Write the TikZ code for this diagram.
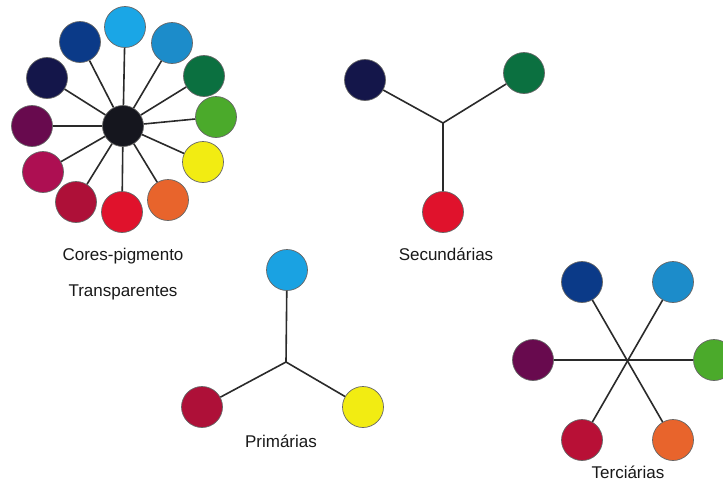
\documentclass[tikz,border=0pt]{standalone}
\usepackage{fontspec}
\setmainfont{Liberation Sans}
\definecolor{cSky}{HTML}{1AA6E6}
\definecolor{cCyan}{HTML}{1C8CCA}
\definecolor{cDGreen}{HTML}{0B7040}
\definecolor{cLGreen}{HTML}{4BAA2B}
\definecolor{cYellow}{HTML}{F2EC12}
\definecolor{cOrange}{HTML}{E8642C}
\definecolor{cRed}{HTML}{E0122C}
\definecolor{cCrimson}{HTML}{AE1038}
\definecolor{cMagenta}{HTML}{AD0F52}
\definecolor{cPurple}{HTML}{680A4E}
\definecolor{cNavy}{HTML}{14164A}
\definecolor{cDBlue}{HTML}{0B3A88}
\definecolor{cCenter}{HTML}{15161E}
\definecolor{cLine}{HTML}{2A2A2A}
\begin{document}
\begin{tikzpicture}[x=1pt,y=-1pt,
  dot/.style={circle,draw=black!60,line width=0.7pt,minimum size=41pt,inner sep=0pt,fill=#1},
  spoke/.style={draw=cLine,line width=1.6pt},
  lbl/.style={font=\fontsize{17}{19}\selectfont,text=black!90,inner sep=0pt}]
\useasboundingbox[fill=white] (0,0) rectangle (723,482);
% Wheel
\node[dot=cCenter] (c) at (123,126) {};
\node[dot=cSky] (w1) at (125,27) {};
\node[dot=cCyan] (w2) at (172,43) {};
\node[dot=cDGreen] (w3) at (204,76) {};
\node[dot=cLGreen] (w4) at (216,117) {};
\node[dot=cYellow] (w5) at (203,162) {};
\node[dot=cOrange] (w6) at (168,200) {};
\node[dot=cRed] (w7) at (122,212) {};
\node[dot=cCrimson] (w8) at (76,202) {};
\node[dot=cMagenta] (w9) at (43,172) {};
\node[dot=cPurple] (w10) at (32,126) {};
\node[dot=cNavy] (w11) at (47,78) {};
\node[dot=cDBlue] (w12) at (80,42) {};
\foreach \i in {1,...,12} {\draw[spoke] (c) -- (w\i);}
\node[lbl] (lcp) at (123,256) {Cores-pigmento};
\node[lbl] (ltr) at (123,292) {Transparentes};
% Secundarias
\coordinate (sj) at (443,123);
\node[dot=cNavy] (s1) at (365,80) {};
\node[dot=cDGreen] (s2) at (524,73) {};
\node[dot=cRed] (s3) at (443,212) {};
\draw[spoke] (s1) -- (sj) -- (s2);
\draw[spoke] (sj) -- (s3);
\node[lbl] (lsec) at (446,254) {Secundárias};
% Primarias
\coordinate (pj) at (286,362);
\node[dot=cSky!85!cCyan] (p1) at (287,270) {};
\node[dot=cCrimson] (p2) at (202,407) {};
\node[dot=cYellow] (p3) at (363,407) {};
\draw[spoke] (pj) -- (p1);
\draw[spoke] (pj) -- (p2);
\draw[spoke] (pj) -- (p3);
\node[lbl] (lpri) at (281,441) {Primárias};
% Terciarias
\node[dot=cDBlue] (t1) at (582,282) {};
\node[dot=cCyan] (t2) at (673,282) {};
\node[dot=cPurple] (t3) at (533,360) {};
\node[dot=cLGreen] (t4) at (714,360) {};
\node[dot=cCrimson!80!cRed] (t5) at (582,440) {};
\node[dot=cOrange] (t6) at (673,440) {};
\draw[spoke] (t3) -- (t4);
\draw[spoke] (t1) -- (t6);
\draw[spoke] (t2) -- (t5);
\node[lbl] (lter) at (628,472) {Terciárias};
\end{tikzpicture}
\end{document}
